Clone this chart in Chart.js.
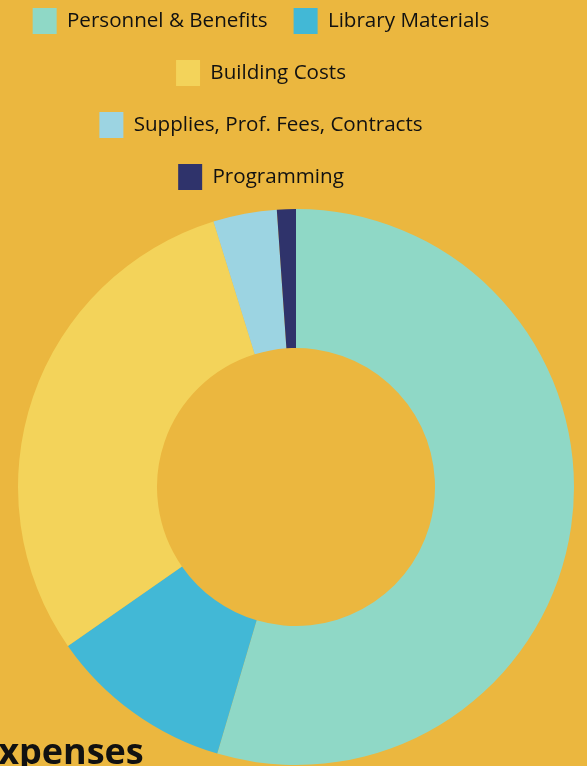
<!DOCTYPE html>
<html>
<head>
<meta charset="utf-8">
<script src="https://cdn.jsdelivr.net/npm/chart.js@4/dist/chart.umd.min.js"></script>
<style>
  html, body { margin: 0; padding: 0; background: #ebb73f; overflow: hidden; }
  body { width: 587px; height: 766px; position: relative; }
  #wrap { position: absolute; left: 0; top: -18px; width: 587px; height: 792px; }
  #title {
    position: absolute; left: -22px; top: 733px;
    font-family: "Open Sans", sans-serif; font-weight: 700; font-size: 36px;
    line-height: 1; color: #111; white-space: nowrap;
  }
</style>
</head>
<body>
<div id="wrap"><canvas id="chart"></canvas></div>
<div id="title">Expenses</div>
<script>
const categories = [
  "Personnel & Benefits",
  "Library Materials",
  "Building Costs",
  "Supplies, Prof. Fees, Contracts",
  "Programming"
];
// share of total expenses (%)
const expenseShares = [54.6, 10.75, 29.9, 3.7, 1.1];
const sliceColors = ["#8fd8c6", "#42b8d6", "#f3d35a", "#9cd4e2", "#2f336b"];

const ctx = document.getElementById("chart").getContext("2d");
new Chart(ctx, {
  type: "doughnut",
  data: {
    labels: categories,
    datasets: [{
      data: expenseShares,
      backgroundColor: sliceColors,
      borderWidth: 0,
    }],
  },
  options: {
    responsive: true,
    maintainAspectRatio: false,
    animation: false,
    cutout: "50%",
    radius: 278,
    // legend is narrower than the ring area, ring sits a bit right of the legend
    layout: { padding: { right: 65 } },
    plugins: {
      title: {
        display: true,
        position: "left",
        text: "",
        font: { size: 10 },
        padding: { top: 29, bottom: 29 },
      },
      legend: {
        position: "top",
        labels: {
          boxWidth: 24,
          boxHeight: 26,
          padding: 26,
          color: "#111",
          font: { family: "'Open Sans', sans-serif", size: 20.6 },
        },
      },
      tooltip: { enabled: false },
    },
  },
});
</script>
</body>
</html>
